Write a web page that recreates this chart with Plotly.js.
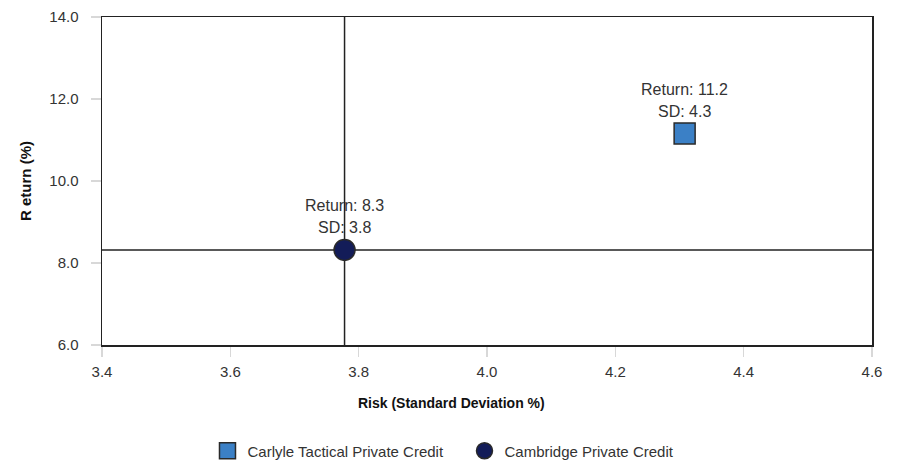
<!DOCTYPE html>
<html>
<head>
<meta charset="utf-8">
<script src="https://cdn.plot.ly/plotly-3.0.1.min.js"></script>
<style>html,body{margin:0;padding:0;background:#fff;}#chart{width:902px;height:460px;}</style>
</head>
<body>
<div id="chart"></div>
<script>
// Data
const seriesNames = ["Carlyle Tactical Private Credit", "Cambridge Private Credit"];
const riskSD = [4.308, 3.778];
const returnPct = [11.16, 8.32];
const seriesColors = ["#3b80c6", "#131c58"];
const seriesSymbols = ["square", "circle"];
const xTicks = [3.4, 3.6, 3.8, 4.0, 4.2, 4.4, 4.6];
const yTicks = [6.0, 8.0, 10.0, 12.0, 14.0];
const xTitle = "Risk (Standard Deviation %)";
const yTitle = "R eturn (%)";
const benchmarkIndex = 1; // crosshair at Cambridge Private Credit

const FONT = "Liberation Sans, Arial, sans-serif";

const traces = seriesNames.map((name, i) => ({
  type: "scatter",
  mode: "markers",
  name: name,
  x: [riskSD[i]],
  y: [returnPct[i]],
  marker: {
    symbol: seriesSymbols[i],
    size: 21,
    color: seriesColors[i],
    line: {color: "#2a2a2a", width: 1.5}
  },
  hoverinfo: "skip"
}));

const annotations = [];
seriesNames.forEach((name, i) => {
  annotations.push({
    x: riskSD[i], y: returnPct[i], xref: "x", yref: "y",
    text: "Return: " + returnPct[i].toFixed(1),
    showarrow: false, yanchor: "middle", yshift: 44,
    font: {family: FONT, size: 16, color: "#333"}
  });
  annotations.push({
    x: riskSD[i], y: returnPct[i], xref: "x", yref: "y",
    text: "SD: " + riskSD[i].toFixed(1),
    showarrow: false, yanchor: "middle", yshift: 22,
    font: {family: FONT, size: 16, color: "#333"}
  });
});
annotations.push({
  text: "<b>" + xTitle + "</b>", xref: "paper", yref: "paper",
  x: 0.4533, y: -0.1755, xanchor: "center", yanchor: "middle", showarrow: false,
  font: {family: FONT, size: 14, color: "#111"}
});
annotations.push({
  text: "<b>" + yTitle + "</b>", xref: "paper", yref: "paper",
  x: -0.1, y: 0.5, xanchor: "center", yanchor: "middle", showarrow: false,
  textangle: -90,
  font: {family: FONT, size: 15, color: "#111"}
});

const shapes = [
  {type: "line", xref: "x", yref: "paper", x0: riskSD[benchmarkIndex], x1: riskSD[benchmarkIndex], y0: 0, y1: 1,
   line: {color: "#222", width: 1.5}, layer: "below"},
  {type: "line", xref: "paper", yref: "y", x0: 0, x1: 1, y0: returnPct[benchmarkIndex], y1: returnPct[benchmarkIndex],
   line: {color: "#222", width: 1.5}, layer: "below"}
];

const layout = {
  width: 902, height: 460,
  margin: {l: 101.5, r: 29.5, t: 16.7, b: 115, autoexpand: false},
  paper_bgcolor: "#fff", plot_bgcolor: "#fff",
  font: {family: FONT, size: 15, color: "#333"},
  showlegend: true,
  legend: {
    orientation: "h", x: 0.137, xanchor: "left", y: -0.323, yanchor: "middle",
    entrywidth: 212, entrywidthmode: "pixels",
    font: {family: FONT, size: 15, color: "#333"},
    itemclick: false
  },
  xaxis: {
    range: [3.4, 4.6], tickvals: xTicks, ticktext: xTicks.map(v => v.toFixed(1)),
    showgrid: false, zeroline: false,
    showline: true, linecolor: "#222", linewidth: 1.5, mirror: true,
    ticks: "outside", ticklen: 10, tickwidth: 1.5, tickcolor: "#d8d8d8",
    ticklabelstandoff: 2,
    tickfont: {family: FONT, size: 15, color: "#333"}
  },
  yaxis: {
    range: [6, 14], tickvals: yTicks, ticktext: yTicks.map(v => v.toFixed(1)),
    showgrid: false, zeroline: false,
    showline: true, linecolor: "#222", linewidth: 1.5, mirror: true,
    ticks: "outside", ticklen: 10, tickwidth: 1.5, tickcolor: "#d8d8d8",
    ticklabelstandoff: 9,
    tickfont: {family: FONT, size: 15, color: "#333"}
  },
  shapes: shapes,
  annotations: annotations
};

Plotly.newPlot("chart", traces, layout, {displayModeBar: false, staticPlot: true});
</script>
</body>
</html>
